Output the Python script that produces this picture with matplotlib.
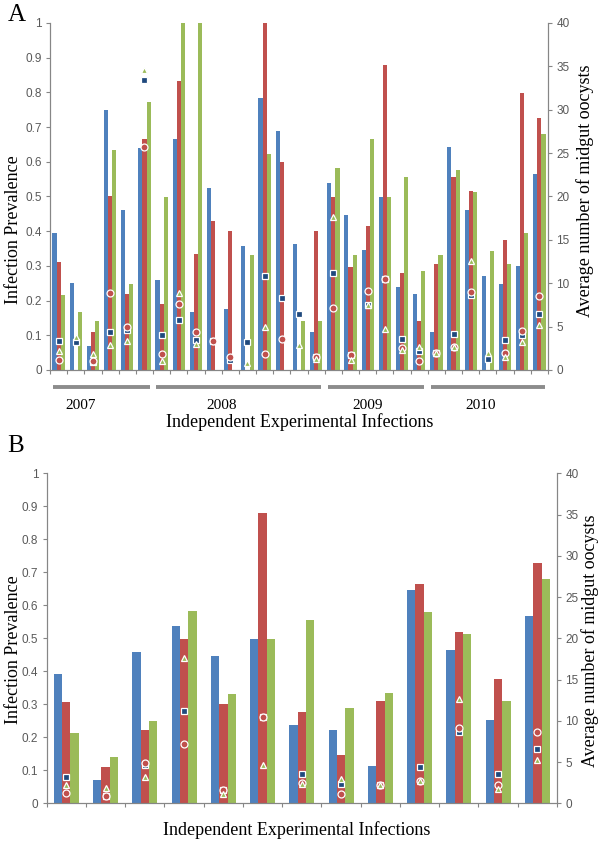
import numpy as np
import matplotlib
matplotlib.use('Agg')
import matplotlib.pyplot as plt
import matplotlib.transforms as mtransforms

nan = np.nan

# Panel A: prevalence bars (left axis) and oocyst means (right axis)
a_blue = [0.395, 0.25, 0.07, 0.75, 0.46, 0.64, 0.26, 0.665, 0.166, 0.524, 0.176, 0.358, 0.784, 0.69, 0.363,
          0.11, 0.539, 0.447, 0.346, 0.498, 0.24, 0.218, 0.11, 0.644, 0.46, 0.271, 0.248, 0.30, 0.565]
a_red = [0.31, nan, 0.11, 0.50, 0.22, 0.665, 0.19, 0.832, 0.334, 0.428, 0.40, nan, 1.0, 0.598, nan,
         0.40, 0.498, 0.298, 0.416, 0.88, 0.279, 0.141, 0.306, 0.555, 0.517, nan, 0.375, 0.798, 0.726]
a_green = [0.215, 0.166, 0.141, 0.635, 0.248, 0.771, 0.498, 1.0, 1.0, nan, nan, 0.332, 0.623, nan, 0.141,
           0.141, 0.582, 0.332, 0.665, 0.498, 0.555, 0.286, 0.332, 0.577, 0.512, 0.344, 0.305, 0.394, 0.681]
a_sq = [3.3, 3.2, 0.9, 4.4, 4.6, 33.4, 4.0, 5.8, 3.5, 3.3, 1.2, 3.2, 10.8, 8.3, 6.4,
        1.5, 11.2, 1.7, 7.5, 10.5, 3.6, 2.2, 2.0, 4.2, 8.7, 1.3, 3.5, 4.0, 6.5]
a_ci = [1.2, nan, 1.0, 8.9, 4.9, 25.7, 1.9, 7.6, 4.4, 3.3, 1.5, nan, 1.9, 3.6, nan,
        1.5, 7.1, 1.7, 9.1, 10.5, 2.5, 1.0, 2.0, 2.6, 9.0, nan, 2.0, 4.5, 8.5]
a_tri = [2.2, 3.8, 1.9, 2.9, 3.3, 34.6, 1.0, 8.9, 3.0, nan, nan, 0.8, 4.9, nan, 2.9,
         1.3, 17.6, 1.2, 7.5, 4.7, 2.3, 2.7, 2.0, 2.6, 12.6, 2.0, 1.5, 3.2, 5.2]
years = ['2007', '2008', '2009', '2010']
year_counts = [6, 10, 6, 7]
year_label_shift = [-1.2, -1.0, -0.5, -0.4]

# Panel B
b_blue = [0.392, 0.071, 0.458, 0.538, 0.446, 0.497, 0.237, 0.221, 0.114, 0.645, 0.465, 0.251, 0.568]
b_red = [0.306, 0.109, 0.222, 0.497, 0.30, 0.881, 0.278, 0.146, 0.309, 0.666, 0.52, 0.377, 0.727]
b_green = [0.212, 0.141, 0.248, 0.582, 0.331, 0.497, 0.554, 0.288, 0.335, 0.58, 0.513, 0.309, 0.681]
b_sq = [3.2, 0.9, 4.6, 11.2, 1.6, 10.5, 3.6, 2.4, 2.2, 4.4, 8.7, 3.6, 6.6]
b_ci = [1.2, 0.9, 4.9, 7.2, 1.6, 10.5, 2.5, 1.1, 2.2, 2.7, 9.1, 2.2, 8.6]
b_tri = [2.2, 1.9, 3.2, 17.6, 1.1, 4.6, 2.3, 2.9, 2.2, 2.7, 12.7, 1.7, 5.3]

BLUE, RED, GREEN, NAVY = '#4F81BD', '#C0504D', '#9BBB59', '#1F497D'
GRAY = '#868686'
SERIF = 'Liberation Serif'
SANS = 'Liberation Sans'

W, H = 600, 843
fig = plt.figure(figsize=(6, 8.43), dpi=100)


def panel(rect, blue, red, green, sq, ci, tri, bw):
    ax = fig.add_axes(rect)
    n = len(blue)
    x = np.arange(n)
    ax.bar(x - bw, blue, bw, color=BLUE, zorder=2)
    ax.bar(x, red, bw, color=RED, zorder=2)
    ax.bar(x + bw, green, bw, color=GREEN, zorder=2)
    ax.set_xlim(-0.5, n - 0.5)
    ax.set_ylim(0, 1)
    ax.set_yticks(np.arange(0, 1.01, 0.1))
    ax.set_yticklabels(['0'] + ['%.1f' % v for v in np.arange(0.1, 0.95, 0.1)] + ['1'])
    ax.set_xticks(np.arange(-0.5, n, 1.0))
    ax.set_xticklabels([])
    ax2 = ax.twinx()
    ax2.set_ylim(0, 40)
    ax2.set_yticks(range(0, 41, 5))
    ax2.plot(x, sq, 's', ms=4.6, mfc=NAVY, mec='white', mew=0.9, zorder=3)
    ax2.plot(x, ci, 'o', ms=5, mfc=RED, mec='white', mew=0.9, zorder=4)
    ax2.plot(x, tri, '^', ms=5, mfc=GREEN, mec='white', mew=0.9, zorder=5)
    for a in (ax, ax2):
        a.spines['top'].set_visible(False)
        for s in ('left', 'right', 'bottom'):
            a.spines[s].set_color(GRAY)
        a.tick_params(colors=GRAY, labelcolor='#595959', length=3, width=0.8,
                      labelsize=8.5, labelfontfamily=SANS, pad=3)
    ax.tick_params(axis='x', length=3)
    return ax, ax2


# Panel A
axA, axA2 = panel([50 / W, 1 - 370 / H, 498 / W, 347 / H],
                  a_blue, a_red, a_green, a_sq, a_ci, a_tri, 0.24)
trans = mtransforms.blended_transform_factory(axA.transData, axA.transAxes)
start = -0.5
for lab, cnt, sh in zip(years, year_counts, year_label_shift):
    end = start + cnt
    axA.plot([start + 0.2, end - 0.2], [-0.049, -0.049], color='#8C8C8C', lw=2.8,
             transform=trans, clip_on=False, solid_capstyle='butt')
    axA.text((start + end) / 2 + sh, -0.101, lab, transform=trans, ha='center', va='center',
             fontsize=11, family=SERIF)
    start = end

fig.text(8 / W, 1 - 15 / H, 'A', fontsize=18, family=SERIF, ha='left', va='center')
fig.text(14 / W, 1 - 230 / H, 'Infection Prevalence', rotation=90, fontsize=13, family=SERIF,
         ha='center', va='center')
fig.text(585 / W, 1 - 191 / H, 'Average number of midgut oocysts', rotation=90, fontsize=13,
         family=SERIF, ha='center', va='center')
fig.text(300 / W, 1 - 422 / H, 'Independent Experimental Infections', fontsize=13, family=SERIF,
         ha='center', va='center')

# Panel B
axB, axB2 = panel([46.7 / W, 1 - 803.3 / H, 510.3 / W, 330 / H],
                  b_blue, b_red, b_green, b_sq, b_ci, b_tri, 0.212)
fig.text(7 / W, 1 - 446 / H, 'B', fontsize=18, family=SERIF, ha='left', va='center')
fig.text(14 / W, 1 - 650 / H, 'Infection Prevalence', rotation=90, fontsize=13, family=SERIF,
         ha='center', va='center')
fig.text(590 / W, 1 - 641 / H, 'Average number of midgut oocysts', rotation=90, fontsize=13,
         family=SERIF, ha='center', va='center')
fig.text(297 / W, 1 - 830 / H, 'Independent Experimental Infections', fontsize=13, family=SERIF,
         ha='center', va='center')

fig.savefig('out.png', dpi=100)
